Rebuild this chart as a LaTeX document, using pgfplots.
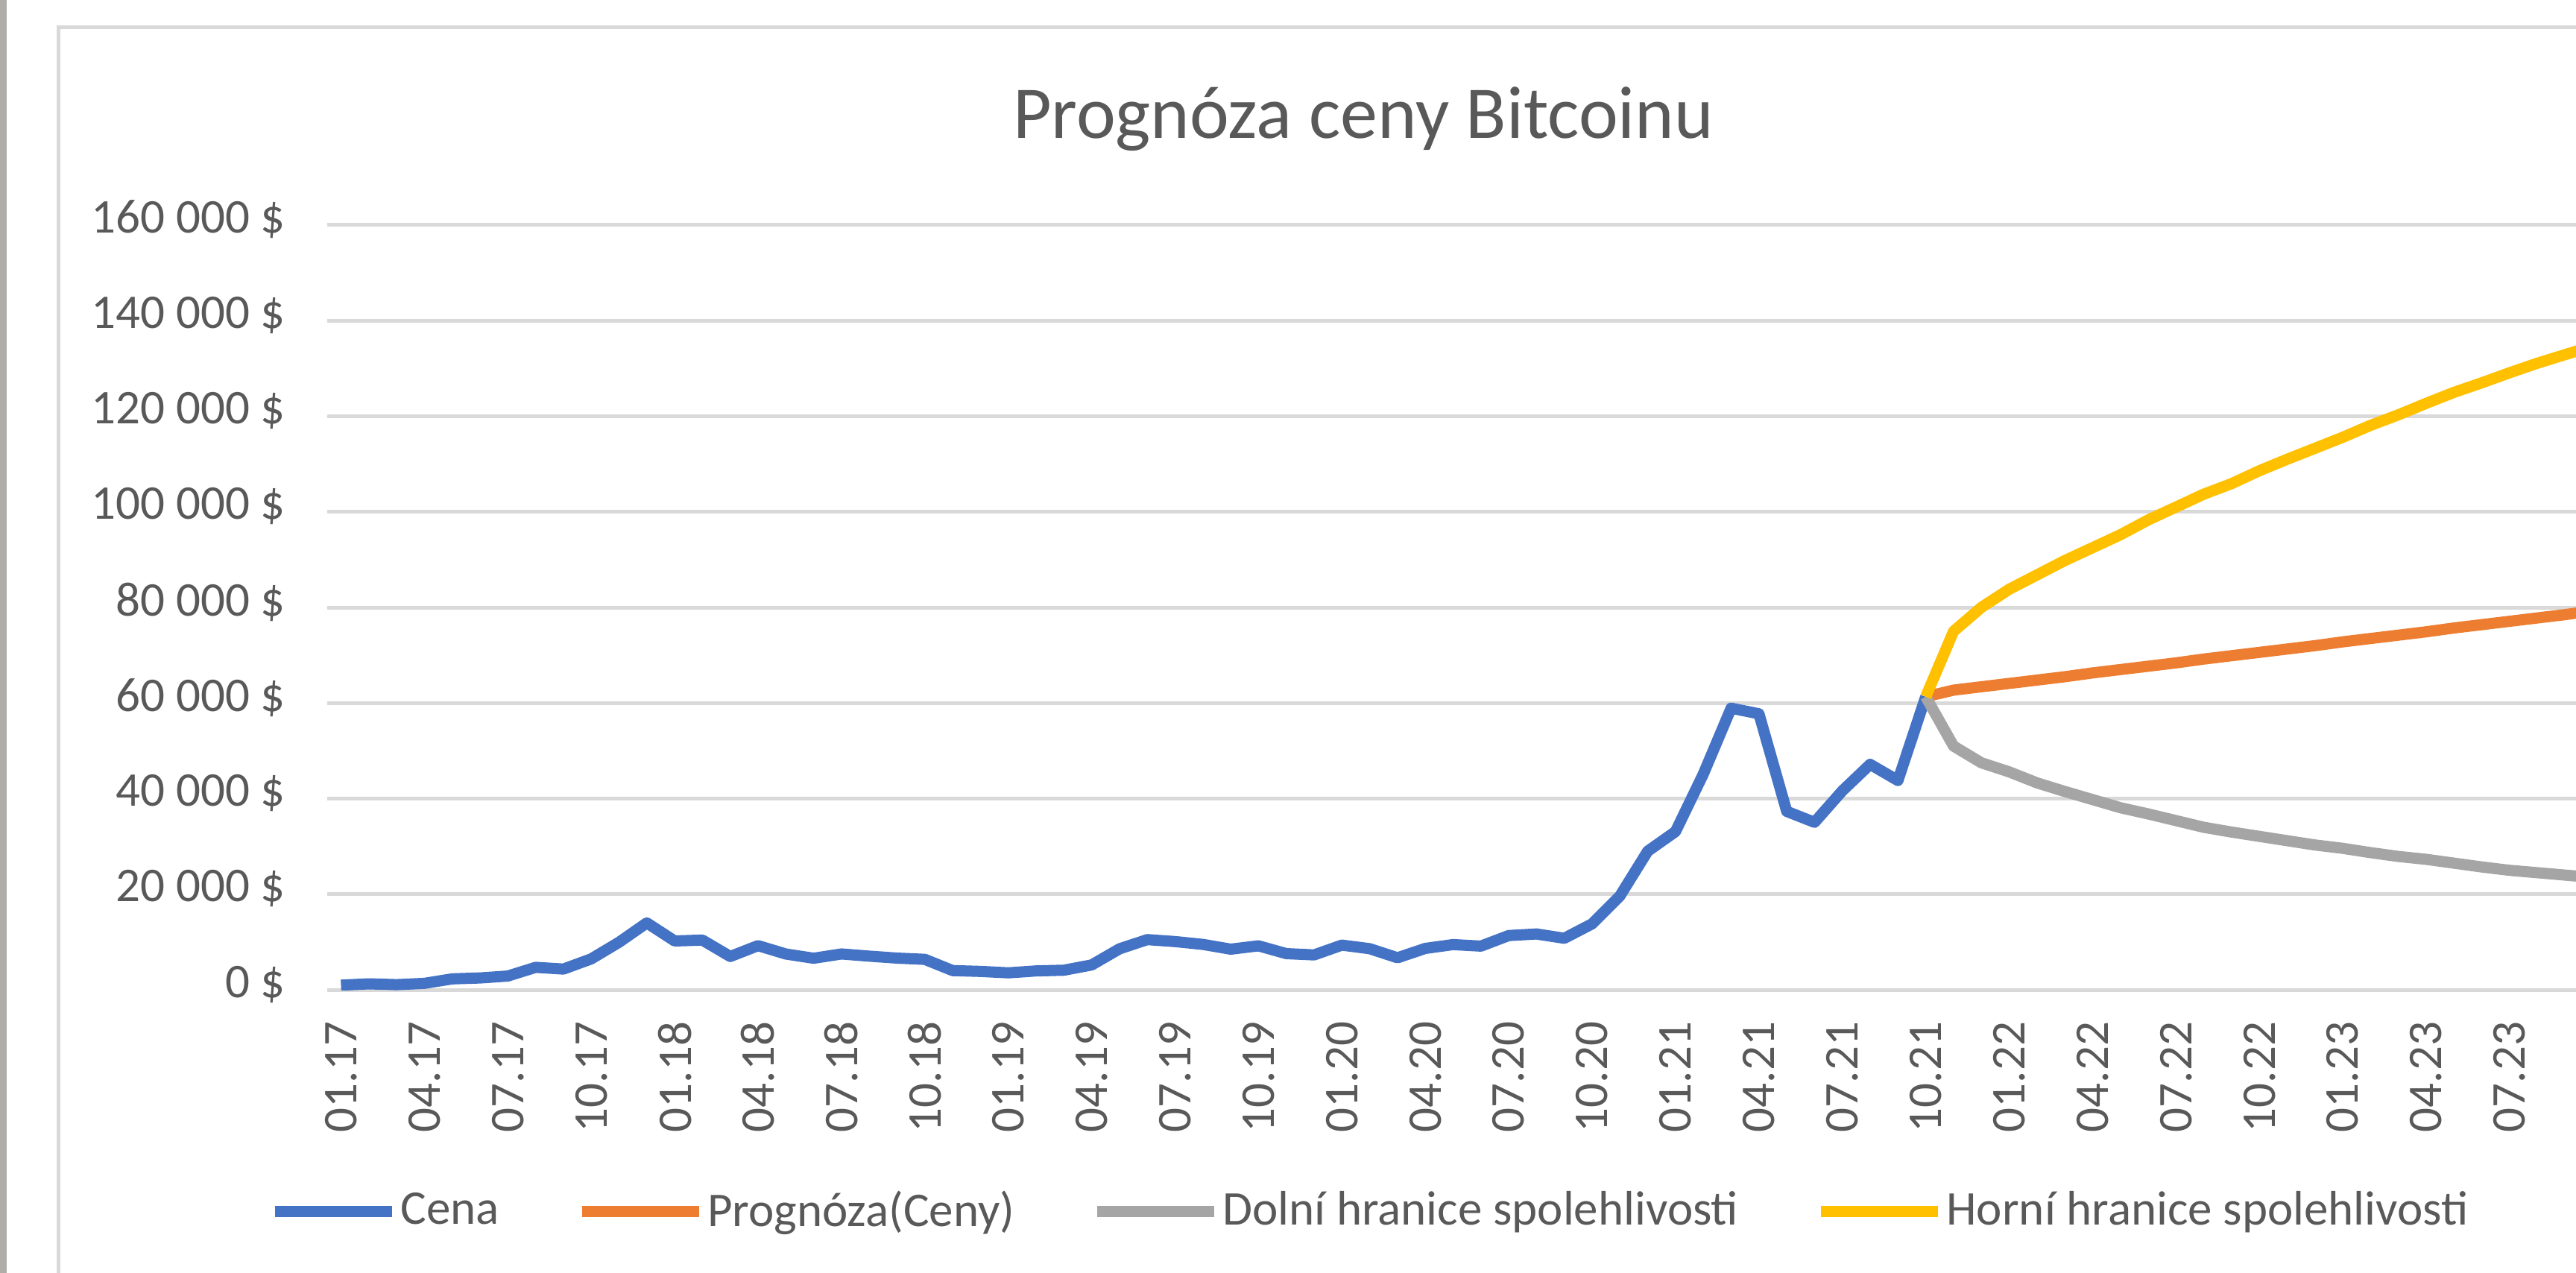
\documentclass[border=0pt]{standalone}
\usepackage{fontspec}
\setmainfont{Carlito}
\usepackage{pgfplots}
\pgfplotsset{compat=1.18}
\definecolor{cblue}{HTML}{4472C4}
\definecolor{corange}{HTML}{ED7D31}
\definecolor{cgray}{HTML}{A5A5A5}
\definecolor{cyellow}{HTML}{FFC000}
\definecolor{gridc}{HTML}{D9D9D9}
\definecolor{txt}{HTML}{595959}
\definecolor{winedge}{RGB}{176,172,168}
\begin{document}
\begin{tikzpicture}
\useasboundingbox (-87.77pt,-75.8pt) rectangle (603.4pt,265.6pt);
\clip (-87.77pt,-75.8pt) rectangle (603.4pt,265.6pt);
\draw[line width=1.8pt, color=winedge] (-86.9pt,-80pt) -- (-86.9pt,270pt);
\draw[line width=1pt, color=gridc] (-72pt,-80pt) -- (-72pt,258.2pt) -- (610pt,258.2pt);
\node[anchor=base, text=txt, font=\fontsize{20pt}{24pt}\selectfont] at (278pt,228.4pt) {Prognóza ceny Bitcoinu};
\begin{axis}[
  scale only axis, width=603.4pt, height=205.2pt,
  xmin=-0.5, xmax=80.39, ymin=0, ymax=160000,
  axis line style={draw=none},
  scaled y ticks=false, scaled x ticks=false,
  ymajorgrids, grid style={gridc, line width=1pt},
  major tick length=0pt,
  xtick={0,3,...,78},
  xticklabels={01.17,04.17,07.17,10.17,01.18,04.18,07.18,10.18,01.19,04.19,07.19,10.19,01.20,04.20,07.20,10.20,01.21,04.21,07.21,10.21,01.22,04.22,07.22,10.22,01.23,04.23,07.23},
  ytick={0,20000,40000,60000,80000,100000,120000,140000,160000},
  yticklabels={0 \$,20 000 \$,40 000 \$,60 000 \$,80 000 \$,100 000 \$,120 000 \$,140 000 \$,160 000 \$},
  tick label style={font=\fontsize{13pt}{15pt}\selectfont, text=txt},
  xticklabel style={yshift=-8.4pt, rotate=90, anchor=east, inner sep=0pt},
  yticklabel style={anchor=east, inner sep=0pt, xshift=-11pt, yshift=1.5pt},
  every axis plot/.append style={line width=3pt, line join=round, no marks},
  legend columns=4,
  legend style={at={(0.4640,-0.2895)}, anchor=center, draw=none, fill=none,
    font=\fontsize{13pt}{15pt}\selectfont, text=txt,
    nodes={inner xsep=0.8pt, inner ysep=1pt},
    /tikz/every even column/.append style={column sep=19.8pt}},
  legend image code/.code={\draw[#1, line width=3pt] (0pt,0pt) -- (31.4pt,0pt);},
]
\addplot[cblue] coordinates {
(0,970) (1,1250) (2,1080) (3,1350) (4,2290) (5,2480) (6,2880) (7,4700) (8,4340) (9,6470)
(10,9950) (11,14000) (12,10220) (13,10400) (14,6970) (15,9240) (16,7490) (17,6600) (18,7500) (19,7040)
(20,6630) (21,6370) (22,4020) (23,3850) (24,3550) (25,3950) (26,4100) (27,5200) (28,8570) (29,10500)
(30,10090) (31,9500) (32,8500) (33,9200) (34,7570) (35,7300) (36,9350) (37,8600) (38,6700) (39,8660)
(40,9460) (41,9140) (42,11350) (43,11680) (44,10780) (45,13800) (46,19630) (47,29000) (48,33110) (49,45140)
(50,58920) (51,57750) (52,37330) (53,35040) (54,41630) (55,47170) (56,43790) (57,61320)
};
\addlegendentry{Cena}
\addplot[corange] coordinates {
(57,61320) (58,62700) (59,63400) (60,64100) (61,64800) (62,65500) (63,66300) (64,67000) (65,67700) (66,68400)
(67,69200) (68,69900) (69,70600) (70,71300) (71,72000) (72,72800) (73,73500) (74,74200) (75,74900) (76,75700)
(77,76400) (78,77100) (79,77800) (80,78500) (81,79300)
};
\addlegendentry{Prognóza(Ceny)}
\addplot[cgray] coordinates {
(57,61320) (58,51000) (59,47500) (60,45600) (61,43300) (62,41500) (63,39800) (64,38100) (65,36800) (66,35400)
(67,34000) (68,33000) (69,32100) (70,31200) (71,30300) (72,29600) (73,28700) (74,27900) (75,27300) (76,26500)
(77,25700) (78,25000) (79,24500) (80,24000) (81,23500)
};
\addlegendentry{Dolní hranice spolehlivosti}
\addplot[cyellow] coordinates {
(57,61320) (58,75000) (59,80000) (60,83800) (61,86800) (62,89800) (63,92500) (64,95200) (65,98300) (66,101000)
(67,103700) (68,105900) (69,108600) (70,111000) (71,113300) (72,115600) (73,118100) (74,120300) (75,122700) (76,125000)
(77,127000) (78,129100) (79,131100) (80,132900) (81,134700)
};
\addlegendentry{Horní hranice spolehlivosti}
\end{axis}
\end{tikzpicture}
\end{document}
